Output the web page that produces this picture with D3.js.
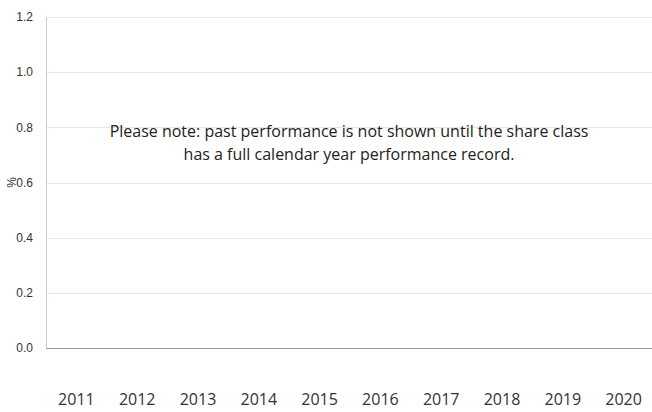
<!DOCTYPE html>
<html>
<head>
<meta charset="utf-8">
<script src="https://cdn.jsdelivr.net/npm/d3@7"></script>
<style>
  body { margin: 0; background: #fff; }
  svg { display: block; }
</style>
</head>
<body>
<div id="chart"></div>
<script>
// chart data
const years = ['2011', '2012', '2013', '2014', '2015', '2016', '2017', '2018', '2019', '2020'];
const yTicks = [0, 0.2, 0.4, 0.6, 0.8, 1.0, 1.2];
const noteLines = [
  'Please note: past performance is not shown until the share class',
  'has a full calendar year performance record.'
];

const width = 652, height = 412;
const plotLeft = 46, plotTop = 17, plotBottom = 348;

const svg = d3.select('#chart').append('svg')
  .attr('width', width)
  .attr('height', height);

const y = d3.scaleLinear().domain([0, 1.2]).range([plotBottom, plotTop]);
const x = d3.scaleBand().domain(years).range([plotLeft, 654]);

// gridlines
svg.append('g')
  .selectAll('line')
  .data(yTicks.filter(d => d > 0))
  .join('line')
  .attr('x1', plotLeft).attr('x2', width)
  .attr('y1', d => Math.round(y(d)) + 0.5)
  .attr('y2', d => Math.round(y(d)) + 0.5)
  .attr('stroke', '#e6e6e6');

// y tick labels
svg.append('g')
  .selectAll('text')
  .data(yTicks)
  .join('text')
  .attr('x', 33)
  .attr('y', d => y(d))
  .attr('dy', '0.35em')
  .attr('text-anchor', 'end')
  .style('font', '12px "Liberation Sans", Arial, sans-serif')
  .attr('fill', '#333')
  .text(d => d3.format('.1f')(d));

// axis lines
svg.append('line')
  .attr('x1', plotLeft + 0.5).attr('x2', plotLeft + 0.5)
  .attr('y1', plotTop).attr('y2', plotBottom)
  .attr('stroke', '#cccccc');

svg.append('line')
  .attr('x1', plotLeft).attr('x2', width)
  .attr('y1', plotBottom + 0.5).attr('y2', plotBottom + 0.5)
  .attr('stroke', '#999999');

// x labels
svg.append('g')
  .selectAll('text')
  .data(years)
  .join('text')
  .attr('x', d => x(d) + x.bandwidth() / 2)
  .attr('y', 405)
  .attr('text-anchor', 'middle')
  .style('font', '16px "Open Sans", sans-serif')
  .attr('fill', '#333')
  .text(d => d);

// y axis title
svg.append('text')
  .attr('transform', `translate(12, ${y(0.6)}) rotate(-90)`)
  .attr('text-anchor', 'middle')
  .attr('dy', '0.35em')
  .style('font', '12px "Liberation Sans", Arial, sans-serif')
  .attr('fill', '#333')
  .text('%');

// note
svg.append('text')
  .attr('text-anchor', 'middle')
  .style('font', '16px "Open Sans", sans-serif')
  .attr('fill', '#222')
  .selectAll('tspan')
  .data(noteLines)
  .join('tspan')
  .attr('x', 349)
  .attr('y', (d, i) => 137 + i * 23)
  .text(d => d);
</script>
</body>
</html>
